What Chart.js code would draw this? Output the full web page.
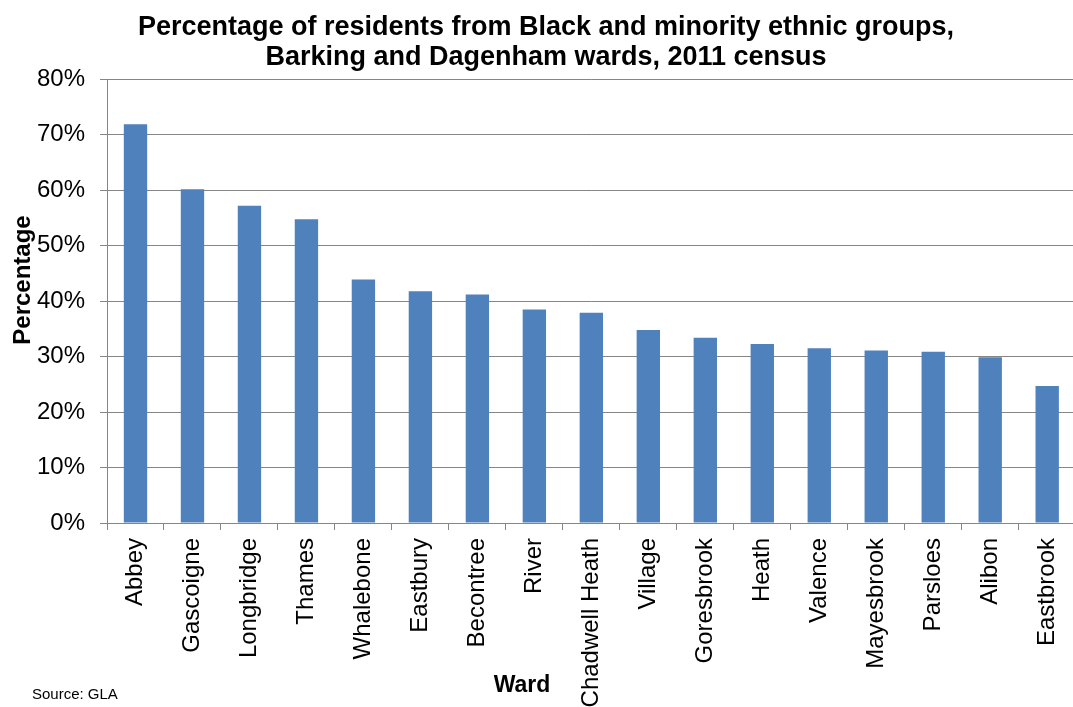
<!DOCTYPE html>
<html>
<head>
<meta charset="utf-8">
<script src="https://cdn.jsdelivr.net/npm/chart.js@4"></script>
<style>
  html, body { margin: 0; padding: 0; overflow: hidden; background: #fff; }
  canvas { display: block; }
</style>
</head>
<body>
<canvas id="bameChart" width="1084" height="707"></canvas>
<script>
  // ward names, sorted by share of BME residents
  var wards = ["Abbey", "Gascoigne", "Longbridge", "Thames", "Whalebone", "Eastbury", "Becontree", "River",
    "Chadwell Heath", "Village", "Goresbrook", "Heath", "Valence", "Mayesbrook", "Parsloes", "Alibon", "Eastbrook"];
  // percentage of residents from Black and minority ethnic groups
  var bmePercent = [71.9, 60.2, 57.2, 54.8, 43.9, 41.8, 41.2, 38.5, 37.9, 34.8, 33.4, 32.3, 31.5, 31.1, 30.9, 29.9, 24.7];
  var titleLines = ["Percentage of residents from Black and minority ethnic groups,", "Barking and Dagenham wards, 2011 census"];

  var fontFamily = "'Liberation Sans', Arial, sans-serif";
  var gridGrey = '#868686';

  // axis titles and the source note, placed by hand
  var extraText = {
    id: 'extraText',
    afterDraw: function (chart) {
      var ctx = chart.ctx;
      ctx.save();
      ctx.fillStyle = '#000';
      ctx.textBaseline = 'middle';
      ctx.textAlign = 'center';
      ctx.font = 'bold 23px ' + fontFamily;
      ctx.fillText('Ward', 522, 686);

      ctx.save();
      ctx.translate(23, 280);
      ctx.rotate(-Math.PI / 2);
      ctx.font = 'bold 24px ' + fontFamily;
      ctx.fillText('Percentage', 0, 0);
      ctx.restore();

      ctx.textAlign = 'left';
      ctx.font = '15px ' + fontFamily;
      ctx.fillText('Source: GLA', 32, 695);
      ctx.restore();
    }
  };

  var ctx = document.getElementById("bameChart").getContext('2d');
  var bameChart = new Chart(ctx, {
    type: 'bar',
    data: {
      labels: wards,
      datasets: [{
        label: "BME residents",
        data: bmePercent,
        backgroundColor: '#4F81BD',
        borderWidth: 0,
        barPercentage: 0.41,
        categoryPercentage: 1
      }]
    },
    options: {
      responsive: false,
      animation: false,
      layout: { padding: { left: 8, right: 0, top: 0, bottom: 0 } },
      plugins: {
        legend: { display: false },
        tooltip: { enabled: false },
        title: {
          display: true,
          text: titleLines,
          color: '#000',
          font: { family: fontFamily, size: 27, weight: 'bold', lineHeight: 1.1 },
          padding: { top: 13, bottom: 7 }
        }
      },
      scales: {
        x: {
          grid: { offset: true, drawOnChartArea: false, drawTicks: true, tickLength: 7, color: gridGrey },
          border: { color: gridGrey },
          ticks: {
            autoSkip: false,
            minRotation: 90,
            maxRotation: 90,
            padding: 8,
            color: '#000',
            font: { family: fontFamily, size: 24 }
          },
          afterFit: function (scale) { scale.height = 184; }
        },
        y: {
          min: 0,
          max: 80,
          ticks: {
            stepSize: 10,
            padding: 15,
            color: '#000',
            font: { family: fontFamily, size: 24 },
            callback: function (v) { return v + '%'; }
          },
          grid: { color: gridGrey, tickLength: 7 },
          border: { color: gridGrey },
          afterFit: function (scale) { scale.width = 99; }
        }
      }
    },
    plugins: [extraText]
  });
</script>
</body>
</html>
